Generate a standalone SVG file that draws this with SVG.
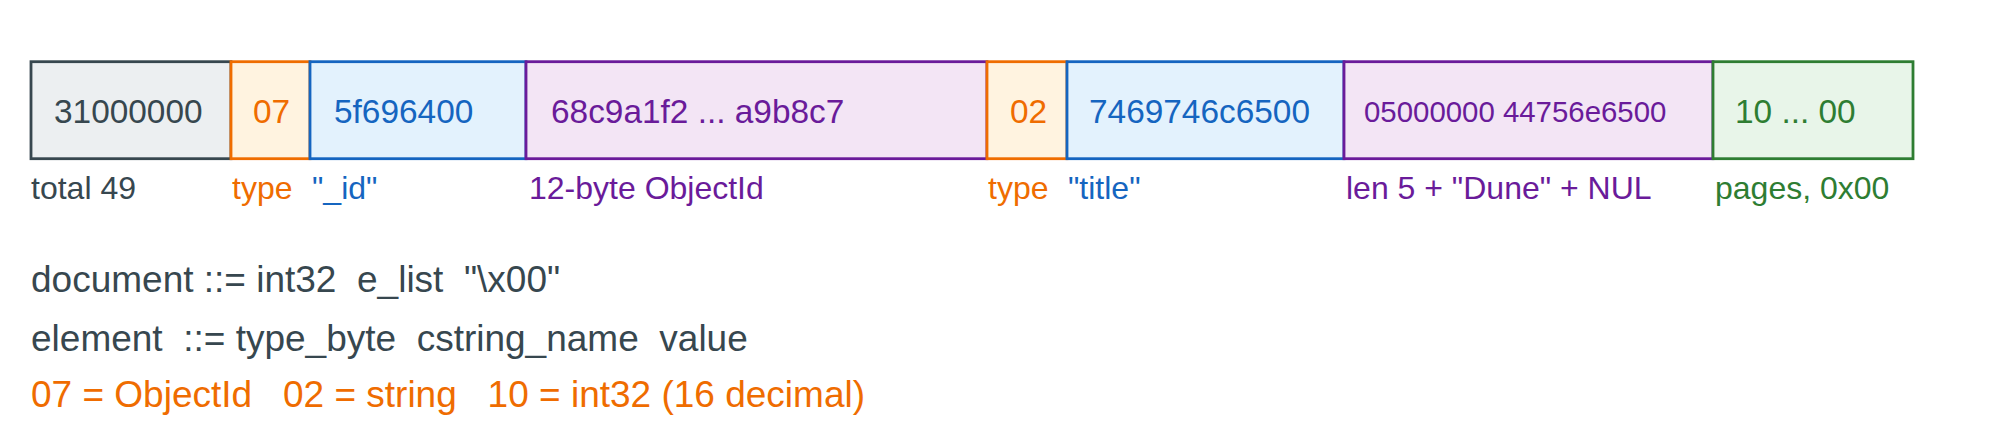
<svg xmlns="http://www.w3.org/2000/svg" width="2000" height="446" viewBox="0 0 2000 446">
<style>
text{font-family:"Liberation Sans",Arial,Helvetica,sans-serif;white-space:pre}
.cell{stroke-width:2.8}
.bx{font-size:33.4px}
.bs{font-size:29.4px}
.lb{font-size:32px}
.gr{font-size:37px}
.grey rect{fill:#eceff1;stroke:#37474f}
.orange rect{fill:#fff3e0;stroke:#ef6c00}
.blue rect{fill:#e3f2fd;stroke:#1565c0}
.purple rect{fill:#f3e5f5;stroke:#6a1b9a}
.green rect{fill:#e8f5e9;stroke:#2e7d32}
.grey text,.tg{fill:#37474f}
.orange text,.to{fill:#ef6c00}
.blue text,.tb{fill:#1565c0}
.purple text,.tp{fill:#6a1b9a}
.green text,.tgr{fill:#2e7d32}
</style>
<rect x="0" y="0" width="2000" height="446" fill="#ffffff"/>
<g id="cell-size" class="grey"><rect class="cell" x="31" y="61.7" width="200" height="97"/><text class="bx" x="54" y="122.5">31000000</text><text class="lb" x="31" y="199">total 49</text></g>
<g id="cell-type1" class="orange"><rect class="cell" x="231" y="61.7" width="79" height="97"/><text class="bx" x="253" y="122.5">07</text><text class="lb" x="232" y="199">type</text></g>
<g id="cell-name1" class="blue"><rect class="cell" x="310" y="61.7" width="216" height="97"/><text class="bx" x="334" y="122.5">5f696400</text><text class="lb" x="312" y="199">"_id"</text></g>
<g id="cell-value1" class="purple"><rect class="cell" x="526" y="61.7" width="461" height="97"/><text class="bx" x="551" y="122.5">68c9a1f2 ... a9b8c7</text><text class="lb" x="529" y="199">12-byte ObjectId</text></g>
<g id="cell-type2" class="orange"><rect class="cell" x="987" y="61.7" width="80" height="97"/><text class="bx" x="1010" y="122.5">02</text><text class="lb" x="988" y="199">type</text></g>
<g id="cell-name2" class="blue"><rect class="cell" x="1067" y="61.7" width="277" height="97"/><text class="bx" x="1089" y="122.5">7469746c6500</text><text class="lb" x="1068" y="199">"title"</text></g>
<g id="cell-value2" class="purple"><rect class="cell" x="1344" y="61.7" width="369" height="97"/><text class="bs" x="1364" y="122">05000000 44756e6500</text><text class="lb" x="1346" y="199">len 5 + "Dune" + NUL</text></g>
<g id="cell-tail" class="green"><rect class="cell" x="1713" y="61.7" width="200" height="97"/><text class="bx" x="1735" y="122.5">10 ... 00</text><text class="lb" x="1715" y="199">pages, 0x00</text></g>
<g id="grammar">
<text class="gr tg" x="31" y="292">document ::= int32  e_list  "\x00"</text>
<text class="gr tg" x="31" y="351">element  ::= type_byte  cstring_name  value</text>
<text class="gr to" x="31" y="407">07 = ObjectId   02 = string   10 = int32 (16 decimal)</text>
</g>
</svg>
